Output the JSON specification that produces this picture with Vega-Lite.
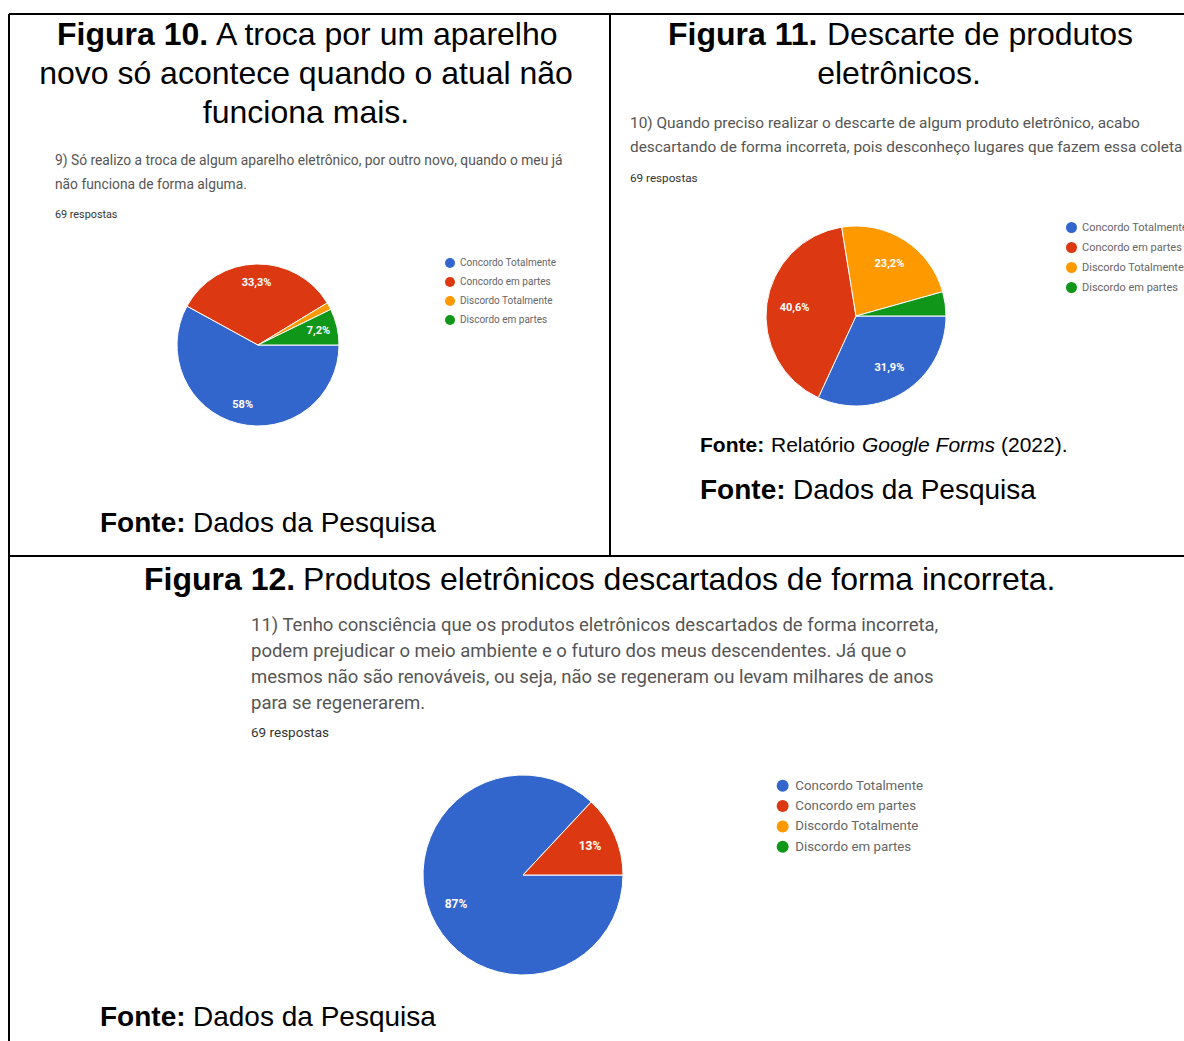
{
  "$schema": "https://vega.github.io/schema/vega-lite/v6.json",
  "width": 1184,
  "height": 1041,
  "autosize": {"type": "none"},
  "padding": 0,
  "background": "white",
  "config": {"view": {"stroke": null}, "text": {"font": "Liberation Sans", "color": "black", "align": "left", "baseline": "middle"}},
  "datasets": {
    "f10": [
      {"cat": "Concordo Totalmente", "n": 40, "label": "58%", "o": 1},
      {"cat": "Concordo em partes", "n": 23, "label": "33,3%", "o": 2},
      {"cat": "Discordo Totalmente", "n": 1, "label": "", "o": 3},
      {"cat": "Discordo em partes", "n": 5, "label": "7,2%", "o": 4}
    ],
    "f11": [
      {"cat": "Concordo Totalmente", "n": 22, "label": "31,9%", "o": 1},
      {"cat": "Concordo em partes", "n": 28, "label": "40,6%", "o": 2},
      {"cat": "Discordo Totalmente", "n": 16, "label": "23,2%", "o": 3},
      {"cat": "Discordo em partes", "n": 3, "label": "", "o": 4}
    ],
    "f12": [
      {"cat": "Concordo Totalmente", "n": 60, "label": "87%", "o": 1},
      {"cat": "Concordo em partes", "n": 9, "label": "13%", "o": 2}
    ],
    "one": [{}]
  },
  "resolve": {"scale": {"color": "independent", "theta": "independent"}},
  "layer": [
    {"data": {"name": "one"}, "mark": {"type": "rule", "color": "black", "strokeWidth": 2}, "encoding": {"x": {"value": 9}, "y": {"value": 14}, "y2": {"value": 1041}}},
    {"data": {"name": "one"}, "mark": {"type": "rule", "color": "black", "strokeWidth": 2}, "encoding": {"x": {"value": 610}, "y": {"value": 14}, "y2": {"value": 556}}},
    {"data": {"name": "one"}, "mark": {"type": "rule", "color": "black", "strokeWidth": 2}, "encoding": {"y": {"value": 14}, "x": {"value": 9}, "x2": {"value": 1184}}},
    {"data": {"name": "one"}, "mark": {"type": "rule", "color": "black", "strokeWidth": 2}, "encoding": {"y": {"value": 556}, "x": {"value": 9}, "x2": {"value": 1184}}},

    {"data": {"name": "one"}, "mark": {"type": "text", "text": "Figura 10.", "fontSize": 32, "fontWeight": "bold"}, "encoding": {"x": {"value": 57}, "y": {"value": 35}}},
    {"data": {"name": "one"}, "mark": {"type": "text", "text": "A troca por um aparelho", "fontSize": 32}, "encoding": {"x": {"value": 216}, "y": {"value": 35}}},
    {"data": {"name": "one"}, "mark": {"type": "text", "text": "novo só acontece quando o atual não", "fontSize": 32, "align": "center"}, "encoding": {"x": {"value": 306}, "y": {"value": 74}}},
    {"data": {"name": "one"}, "mark": {"type": "text", "text": "funciona mais.", "fontSize": 32, "align": "center"}, "encoding": {"x": {"value": 306}, "y": {"value": 113}}},

    {"data": {"name": "one"}, "mark": {"type": "text", "text": "Figura 11.", "fontSize": 32, "fontWeight": "bold"}, "encoding": {"x": {"value": 668}, "y": {"value": 35}}},
    {"data": {"name": "one"}, "mark": {"type": "text", "text": "Descarte de produtos", "fontSize": 32}, "encoding": {"x": {"value": 827}, "y": {"value": 35}}},
    {"data": {"name": "one"}, "mark": {"type": "text", "text": "eletrônicos.", "fontSize": 32, "align": "center"}, "encoding": {"x": {"value": 899}, "y": {"value": 74}}},

    {"data": {"name": "one"}, "mark": {"type": "text", "text": "Figura 12.", "fontSize": 32, "fontWeight": "bold"}, "encoding": {"x": {"value": 144}, "y": {"value": 580}}},
    {"data": {"name": "one"}, "mark": {"type": "text", "text": "Produtos eletrônicos descartados de forma incorreta.", "fontSize": 32}, "encoding": {"x": {"value": 303}, "y": {"value": 580}}},

    {"data": {"name": "one"}, "mark": {"type": "text", "text": "Fonte:", "fontSize": 28, "fontWeight": "bold"}, "encoding": {"x": {"value": 100}, "y": {"value": 524}}},
    {"data": {"name": "one"}, "mark": {"type": "text", "text": "Dados da Pesquisa", "fontSize": 28}, "encoding": {"x": {"value": 193}, "y": {"value": 524}}},
    {"data": {"name": "one"}, "mark": {"type": "text", "text": "Fonte:", "fontSize": 28, "fontWeight": "bold"}, "encoding": {"x": {"value": 700}, "y": {"value": 491}}},
    {"data": {"name": "one"}, "mark": {"type": "text", "text": "Dados da Pesquisa", "fontSize": 28}, "encoding": {"x": {"value": 793}, "y": {"value": 491}}},
    {"data": {"name": "one"}, "mark": {"type": "text", "text": "Fonte:", "fontSize": 28, "fontWeight": "bold"}, "encoding": {"x": {"value": 100}, "y": {"value": 1018}}},
    {"data": {"name": "one"}, "mark": {"type": "text", "text": "Dados da Pesquisa", "fontSize": 28}, "encoding": {"x": {"value": 193}, "y": {"value": 1018}}},

    {"data": {"name": "one"}, "mark": {"type": "text", "text": "Fonte:", "fontSize": 21, "fontWeight": "bold"}, "encoding": {"x": {"value": 700}, "y": {"value": 446}}},
    {"data": {"name": "one"}, "mark": {"type": "text", "text": "Relatório", "fontSize": 21}, "encoding": {"x": {"value": 771}, "y": {"value": 446}}},
    {"data": {"name": "one"}, "mark": {"type": "text", "text": "Google Forms", "fontSize": 21, "fontStyle": "italic"}, "encoding": {"x": {"value": 862}, "y": {"value": 446}}},
    {"data": {"name": "one"}, "mark": {"type": "text", "text": "(2022).", "fontSize": 21}, "encoding": {"x": {"value": 1001}, "y": {"value": 446}}},

    {"data": {"name": "one"}, "mark": {"type": "text", "text": "9) Só realizo a troca de algum aparelho eletrônico, por outro novo, quando o meu já", "font": "Roboto", "fontSize": 13.8, "color": "#555555"}, "encoding": {"x": {"value": 55}, "y": {"value": 161}}},
    {"data": {"name": "one"}, "mark": {"type": "text", "text": "não funciona de forma alguma.", "font": "Roboto", "fontSize": 13.8, "color": "#555555"}, "encoding": {"x": {"value": 55}, "y": {"value": 185}}},
    {"data": {"name": "one"}, "mark": {"type": "text", "text": "69 respostas", "font": "Roboto", "fontSize": 10.8, "color": "#333333"}, "encoding": {"x": {"value": 55}, "y": {"value": 215}}},

    {"data": {"name": "one"}, "mark": {"type": "text", "text": "10) Quando preciso realizar o descarte de algum produto eletrônico, acabo", "font": "Roboto", "fontSize": 15.4, "color": "#555555"}, "encoding": {"x": {"value": 630}, "y": {"value": 123}}},
    {"data": {"name": "one"}, "mark": {"type": "text", "text": "descartando de forma incorreta, pois desconheço lugares que fazem essa coleta", "font": "Roboto", "fontSize": 15.4, "color": "#555555"}, "encoding": {"x": {"value": 630}, "y": {"value": 147}}},
    {"data": {"name": "one"}, "mark": {"type": "text", "text": "69 respostas", "font": "Roboto", "fontSize": 11.7, "color": "#333333"}, "encoding": {"x": {"value": 630}, "y": {"value": 178}}},

    {"data": {"name": "one"}, "mark": {"type": "text", "text": "11) Tenho consciência que os produtos eletrônicos descartados de forma incorreta,", "font": "Roboto", "fontSize": 18.5, "color": "#555555"}, "encoding": {"x": {"value": 251}, "y": {"value": 625}}},
    {"data": {"name": "one"}, "mark": {"type": "text", "text": "podem prejudicar o meio ambiente e o futuro dos meus descendentes. Já que o", "font": "Roboto", "fontSize": 18.5, "color": "#555555"}, "encoding": {"x": {"value": 251}, "y": {"value": 651}}},
    {"data": {"name": "one"}, "mark": {"type": "text", "text": "mesmos não são renováveis, ou seja, não se regeneram ou levam milhares de anos", "font": "Roboto", "fontSize": 18.5, "color": "#555555"}, "encoding": {"x": {"value": 251}, "y": {"value": 677}}},
    {"data": {"name": "one"}, "mark": {"type": "text", "text": "para se regenerarem.", "font": "Roboto", "fontSize": 18.5, "color": "#555555"}, "encoding": {"x": {"value": 251}, "y": {"value": 703}}},
    {"data": {"name": "one"}, "mark": {"type": "text", "text": "69 respostas", "font": "Roboto", "fontSize": 13.5, "color": "#333333"}, "encoding": {"x": {"value": 251}, "y": {"value": 733}}},

    {
      "data": {"name": "f10"},
      "layer": [
        {"mark": {"type": "arc", "radius": 81, "stroke": "white", "strokeWidth": 1},
         "encoding": {
           "x": {"value": 258}, "y": {"value": 345},
           "theta": {"field": "n", "type": "quantitative", "stack": true, "scale": {"range": [1.5708, 7.854]}},
           "order": {"field": "o"},
           "color": {"field": "cat", "type": "nominal",
             "scale": {"domain": ["Concordo Totalmente", "Concordo em partes", "Discordo Totalmente", "Discordo em partes"], "range": ["#3366cc", "#dc3912", "#ff9900", "#109618"]},
             "legend": {"orient": "none", "legendX": 445, "legendY": 258, "title": null, "symbolType": "circle", "symbolSize": 100, "symbolStrokeWidth": 0, "labelFont": "Roboto", "labelFontSize": 10, "labelColor": "#666666", "rowPadding": 9, "padding": 0, "labelOffset": 5}}
         }},
        {"mark": {"type": "text", "radius": 62, "font": "Roboto", "fontSize": 11, "fontWeight": "bold", "color": "white", "align": "center"},
         "encoding": {
           "x": {"value": 258}, "y": {"value": 345},
           "theta": {"field": "n", "type": "quantitative", "stack": true, "scale": {"range": [1.5708, 7.854]}},
           "order": {"field": "o"},
           "text": {"field": "label"}
         }}
      ]
    },
    {
      "data": {"name": "f11"},
      "layer": [
        {"mark": {"type": "arc", "radius": 90, "stroke": "white", "strokeWidth": 1},
         "encoding": {
           "x": {"value": 856}, "y": {"value": 316},
           "theta": {"field": "n", "type": "quantitative", "stack": true, "scale": {"range": [1.5708, 7.854]}},
           "order": {"field": "o"},
           "color": {"field": "cat", "type": "nominal",
             "scale": {"domain": ["Concordo Totalmente", "Concordo em partes", "Discordo Totalmente", "Discordo em partes"], "range": ["#3366cc", "#dc3912", "#ff9900", "#109618"]},
             "legend": {"orient": "none", "legendX": 1066, "legendY": 222, "title": null, "symbolType": "circle", "symbolSize": 121, "symbolStrokeWidth": 0, "labelFont": "Roboto", "labelFontSize": 11, "labelColor": "#666666", "rowPadding": 8, "padding": 0, "labelOffset": 5}}
         }},
        {"mark": {"type": "text", "radius": 62, "font": "Roboto", "fontSize": 11, "fontWeight": "bold", "color": "white", "align": "center"},
         "encoding": {
           "x": {"value": 856}, "y": {"value": 316},
           "theta": {"field": "n", "type": "quantitative", "stack": true, "scale": {"range": [1.5708, 7.854]}},
           "order": {"field": "o"},
           "text": {"field": "label"}
         }}
      ]
    },
    {
      "data": {"name": "f12"},
      "layer": [
        {"mark": {"type": "arc", "radius": 100, "stroke": "white", "strokeWidth": 1},
         "encoding": {
           "x": {"value": 523}, "y": {"value": 875},
           "theta": {"field": "n", "type": "quantitative", "stack": true, "scale": {"range": [1.5708, 7.854]}},
           "order": {"field": "o"},
           "color": {"field": "cat", "type": "nominal",
             "scale": {"domain": ["Concordo Totalmente", "Concordo em partes", "Discordo Totalmente", "Discordo em partes"], "range": ["#3366cc", "#dc3912", "#ff9900", "#109618"]},
             "legend": {"orient": "none", "legendX": 776, "legendY": 779, "title": null, "symbolType": "circle", "symbolSize": 144, "symbolStrokeWidth": 0, "labelFont": "Roboto", "labelFontSize": 13.3, "labelColor": "#666666", "rowPadding": 6.4, "padding": 0, "labelOffset": 6}}
         }},
        {"mark": {"type": "text", "radius": 73, "font": "Roboto", "fontSize": 12, "fontWeight": "bold", "color": "white", "align": "center"},
         "encoding": {
           "x": {"value": 523}, "y": {"value": 875},
           "theta": {"field": "n", "type": "quantitative", "stack": true, "scale": {"range": [1.5708, 7.854]}},
           "order": {"field": "o"},
           "text": {"field": "label"}
         }}
      ]
    }
  ]
}
